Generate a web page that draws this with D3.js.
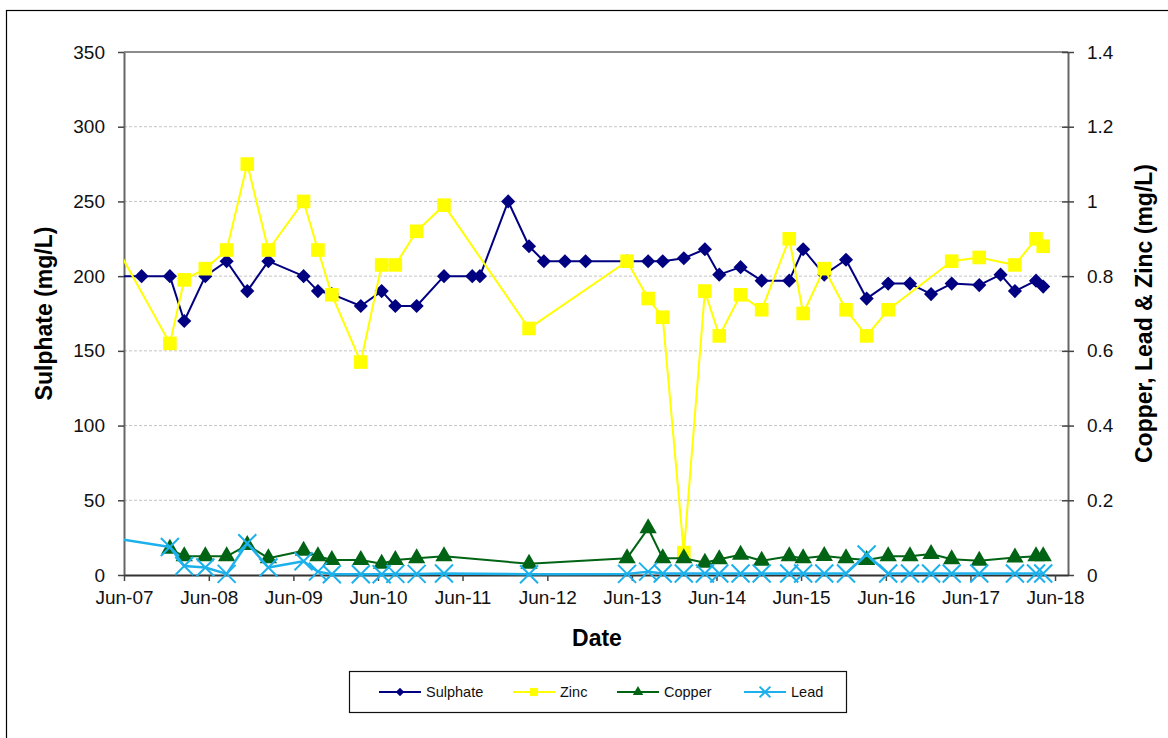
<!DOCTYPE html>
<html>
<head>
<meta charset="utf-8">
<script src="https://cdn.jsdelivr.net/npm/d3@7"></script>
<style>
    body { margin: 0; background: #fff; }
    text { font-family: "Liberation Sans", Arial, sans-serif; }
</style>
</head>
<body>
<svg id="drawing_region"></svg>
<script>
// sample dates (first one lies before the axis start, its lines are clipped)
const dates = ['2007-04-01', '2007-08-16', '2007-12-16', '2008-02-16', '2008-05-17', '2008-08-17',
    '2008-11-14', '2009-02-13', '2009-07-15', '2009-09-15', '2009-11-14', '2010-03-19', '2010-06-17',
    '2010-08-15', '2010-11-15', '2011-03-13', '2011-07-13', '2011-08-15', '2011-12-15', '2012-03-14',
    '2012-05-17', '2012-08-16', '2012-11-13', '2013-05-11', '2013-08-10', '2013-10-12', '2014-01-11',
    '2014-04-12', '2014-06-13', '2014-09-13', '2014-12-13', '2015-04-11', '2015-06-10', '2015-09-09',
    '2015-12-12', '2016-03-10', '2016-06-11', '2016-09-13', '2016-12-13', '2017-03-12', '2017-07-09',
    '2017-10-09', '2017-12-10', '2018-03-11', '2018-04-11'];

const sulphate = [200, 200, 200, 170, 200, 210, 190, 210, 200, 190, 188, 180, 190, 180, 180, 200,
    200, 200, 250, 220, 210, 210, 210, 210, 210, 210, 212, 218, 201, 206, 197, 197, 218, 201, 211,
    185, 195, 195, 188, 195, 194, 201, 190, 197, 193];

const zinc = [0.91, null, 0.62, 0.79, 0.82, 0.87, 1.10, 0.87, 1.00, 0.87, 0.75, 0.57, 0.83, 0.83,
    0.92, 0.99, null, null, null, 0.66, null, null, null, 0.84, 0.74, 0.69, 0.06, 0.76, 0.64, 0.75,
    0.71, 0.90, 0.70, 0.82, 0.71, 0.64, 0.71, null, null, 0.84, 0.85, null, 0.83, 0.90, 0.88];

const copper = [null, null, 0.07, 0.05, 0.05, 0.05, 0.08, 0.045, 0.065, 0.05, 0.04, 0.04, 0.03,
    0.04, 0.045, 0.05, null, null, null, 0.03, null, null, null, 0.045, 0.125, 0.045, 0.045, 0.033,
    0.042, 0.054, 0.038, 0.05, 0.045, 0.051, 0.045, 0.04, 0.05, 0.05, 0.056, 0.042, 0.038, null,
    0.047, 0.05, 0.05];

const lead = [0.10, null, 0.075, 0.024, 0.02, 0.003, 0.085, 0.02, 0.037, 0.009, 0.002, 0.002, 0.002,
    0.003, 0.003, 0.004, null, null, null, 0.002, null, null, null, 0.003, 0.009, 0.004, 0.004, 0.004,
    0.004, 0.004, 0.004, 0.004, 0.004, 0.004, 0.004, 0.055, 0.004, 0.004, 0.004, 0.004, 0.004, null,
    0.004, 0.004, 0.004];

const leftTicks = [0, 50, 100, 150, 200, 250, 300, 350];
const rightTicks = [0, 0.2, 0.4, 0.6, 0.8, 1, 1.2, 1.4];
const tickYears = [2007, 2008, 2009, 2010, 2011, 2012, 2013, 2014, 2015, 2016, 2017, 2018];

const parse = d3.timeParse('%Y-%m-%d');

const series = [
    { name: 'Sulphate', values: sulphate, axis: 'left', color: '#000080', marker: 'diamond', width: 2 },
    { name: 'Zinc', values: zinc, axis: 'right', color: '#ffff00', marker: 'square', width: 2 },
    { name: 'Copper', values: copper, axis: 'right', color: '#006414', marker: 'triangle', width: 2 },
    { name: 'Lead', values: lead, axis: 'right', color: '#1db1ec', marker: 'cross', width: 2.5 }
];

class LineChart {

    constructor(config) {
        this.config = config;
        this.init();
    }

    init() {
        let self = this;
        const c = self.config;

        self.svg = d3.select(c.parent)
            .attr('width', c.width)
            .attr('height', c.height);

        // outer frame (only left and top edges are visible)
        self.svg.append('rect')
            .attr('x', 6.5).attr('y', 10.5)
            .attr('width', 1300).attr('height', 900)
            .attr('fill', 'none').attr('stroke', '#000').attr('stroke-width', 1.2);

        self.xscale = d3.scaleTime()
            .domain([parse('2007-06-01'), parse('2018-07-27')])
            .range([c.left, c.right]);
        self.yleft = d3.scaleLinear().domain([0, 350]).range([c.bottom, c.top]);
        self.yright = d3.scaleLinear().domain([0, 1.4]).range([c.bottom, c.top]);

        self.svg.append('clipPath').attr('id', 'plotclip')
            .append('rect')
            .attr('x', c.left).attr('y', 0)
            .attr('width', c.right - c.left).attr('height', c.height);
    }

    render() {
        let self = this;
        const c = self.config;
        const fontSize = '19px';

        // gridlines
        self.svg.append('g')
            .selectAll('line')
            .data(leftTicks.filter(d => d > 0 && d < 350))
            .join('line')
            .attr('x1', c.left).attr('x2', c.right)
            .attr('y1', d => self.yleft(d)).attr('y2', d => self.yleft(d))
            .attr('stroke', '#c4c4c4').attr('stroke-width', 1)
            .attr('stroke-dasharray', '3,2');

        // top border of plot area
        self.svg.append('line')
            .attr('x1', c.left).attr('x2', c.right)
            .attr('y1', c.top).attr('y2', c.top)
            .attr('stroke', '#8c8c8c').attr('stroke-width', 2);

        // left axis
        const leftAxis = self.svg.append('g')
            .attr('transform', `translate(${c.left},0)`)
            .call(d3.axisLeft(self.yleft).tickValues(leftTicks).tickSize(6).tickPadding(13).tickSizeOuter(0));

        // right axis
        const rightAxis = self.svg.append('g')
            .attr('transform', `translate(${c.right},0)`)
            .call(d3.axisRight(self.yright).tickValues(rightTicks).tickSize(6).tickPadding(13)
                .tickFormat(d3.format('')).tickSizeOuter(0));
        rightAxis.selectAll('.tick line').attr('x1', d => d === 0 ? 0 : -6);

        // bottom axis
        const bottomAxis = self.svg.append('g')
            .attr('transform', `translate(0,${c.bottom})`)
            .call(d3.axisBottom(self.xscale)
                .tickValues(tickYears.map(y => new Date(y, 5, 1)))
                .tickFormat(d3.timeFormat('%b-%y'))
                .tickSize(6).tickPadding(10).tickSizeOuter(0));

        [leftAxis, rightAxis, bottomAxis].forEach(g => {
            g.select('.domain').attr('stroke', '#666').attr('stroke-width', 2);
            g.selectAll('.tick line').attr('stroke', '#444').attr('stroke-width', 1.5);
            g.selectAll('.tick text')
                .attr('font-size', fontSize)
                .attr('fill', '#111')
                .attr('font-family', '"Liberation Sans", Arial, sans-serif');
        });
        bottomAxis.select('.domain').attr('stroke', '#333');

        // axis titles
        self.svg.append('text')
            .attr('transform', `translate(46,${(c.top + c.bottom) / 2}) rotate(-90)`)
            .attr('text-anchor', 'middle')
            .attr('dominant-baseline', 'middle')
            .attr('font-size', '23px').attr('font-weight', 'bold')
            .text('Sulphate (mg/L)');
        self.svg.append('text')
            .attr('transform', `translate(1146,${(c.top + c.bottom) / 2}) rotate(-90)`)
            .attr('text-anchor', 'middle')
            .attr('dominant-baseline', 'middle')
            .attr('font-size', '23px').attr('font-weight', 'bold')
            .text('Copper, Lead & Zinc (mg/L)');
        self.svg.append('text')
            .attr('x', 597).attr('y', 646)
            .attr('text-anchor', 'middle')
            .attr('font-size', '23px').attr('font-weight', 'bold')
            .text('Date');

        // series
        const start = self.xscale.domain()[0];
        series.forEach(s => {
            const yscale = s.axis === 'left' ? self.yleft : self.yright;
            const pts = dates.map((d, i) => ({ date: parse(d), value: s.values[i] }))
                .filter(p => p.value !== null);

            const line = d3.line()
                .x(p => self.xscale(p.date))
                .y(p => yscale(p.value));

            const g = self.svg.append('g');
            g.append('path')
                .datum(pts)
                .attr('clip-path', 'url(#plotclip)')
                .attr('d', line)
                .attr('fill', 'none')
                .attr('stroke', s.color)
                .attr('stroke-width', s.width)
                .attr('stroke-linejoin', 'round');

            g.selectAll('path.marker')
                .data(pts.filter(p => p.date >= start))
                .join('path')
                .attr('class', 'marker')
                .attr('transform', p => `translate(${self.xscale(p.date)},${yscale(p.value)})`)
                .call(sel => self.drawMarker(sel, s, 1));
        });

        // legend
        const lg = self.svg.append('g');
        lg.append('rect')
            .attr('x', 349.5).attr('y', 671.5)
            .attr('width', 497).attr('height', 41)
            .attr('fill', '#fff').attr('stroke', '#111').attr('stroke-width', 1.2);
        const legendX = [379, 513, 617, 744];
        series.forEach((s, i) => {
            const x0 = legendX[i];
            const item = lg.append('g').attr('transform', `translate(${x0},692)`);
            item.append('line')
                .attr('x1', 0).attr('x2', 42)
                .attr('stroke', s.color).attr('stroke-width', 2);
            item.append('path')
                .attr('transform', 'translate(21,0)')
                .call(sel => self.drawMarker(sel, s, 0.6));
            item.append('text')
                .attr('x', 47).attr('y', 5)
                .attr('font-size', '14.5px')
                .attr('fill', '#111')
                .text(s.name);
        });
    }

    drawMarker(sel, s, k) {
        if (s.marker === 'diamond') {
            sel.attr('d', d3.symbol(d3.symbolSquare, 100 * k * k)())
                .attr('transform', function () {
                    return (d3.select(this).attr('transform') || '') + ' rotate(45)';
                })
                .attr('fill', s.color);
        } else if (s.marker === 'square') {
            sel.attr('d', d3.symbol(d3.symbolSquare, 185 * k * k)())
                .attr('fill', s.color);
        } else if (s.marker === 'triangle') {
            sel.attr('d', d3.symbol(d3.symbolTriangle, 130 * k * k)())
                .attr('fill', s.color);
        } else {
            const h = 9 * k;
            sel.attr('d', `M${-h},${-h}L${h},${h}M${-h},${h}L${h},${-h}`)
                .attr('fill', 'none')
                .attr('stroke', s.color)
                .attr('stroke-width', 2);
        }
    }
}

const config = {
    parent: '#drawing_region',
    width: 1168,
    height: 738,
    left: 124,
    right: 1068,
    top: 52,
    bottom: 575
};
const chart = new LineChart(config);
chart.render();
</script>
</body>
</html>
